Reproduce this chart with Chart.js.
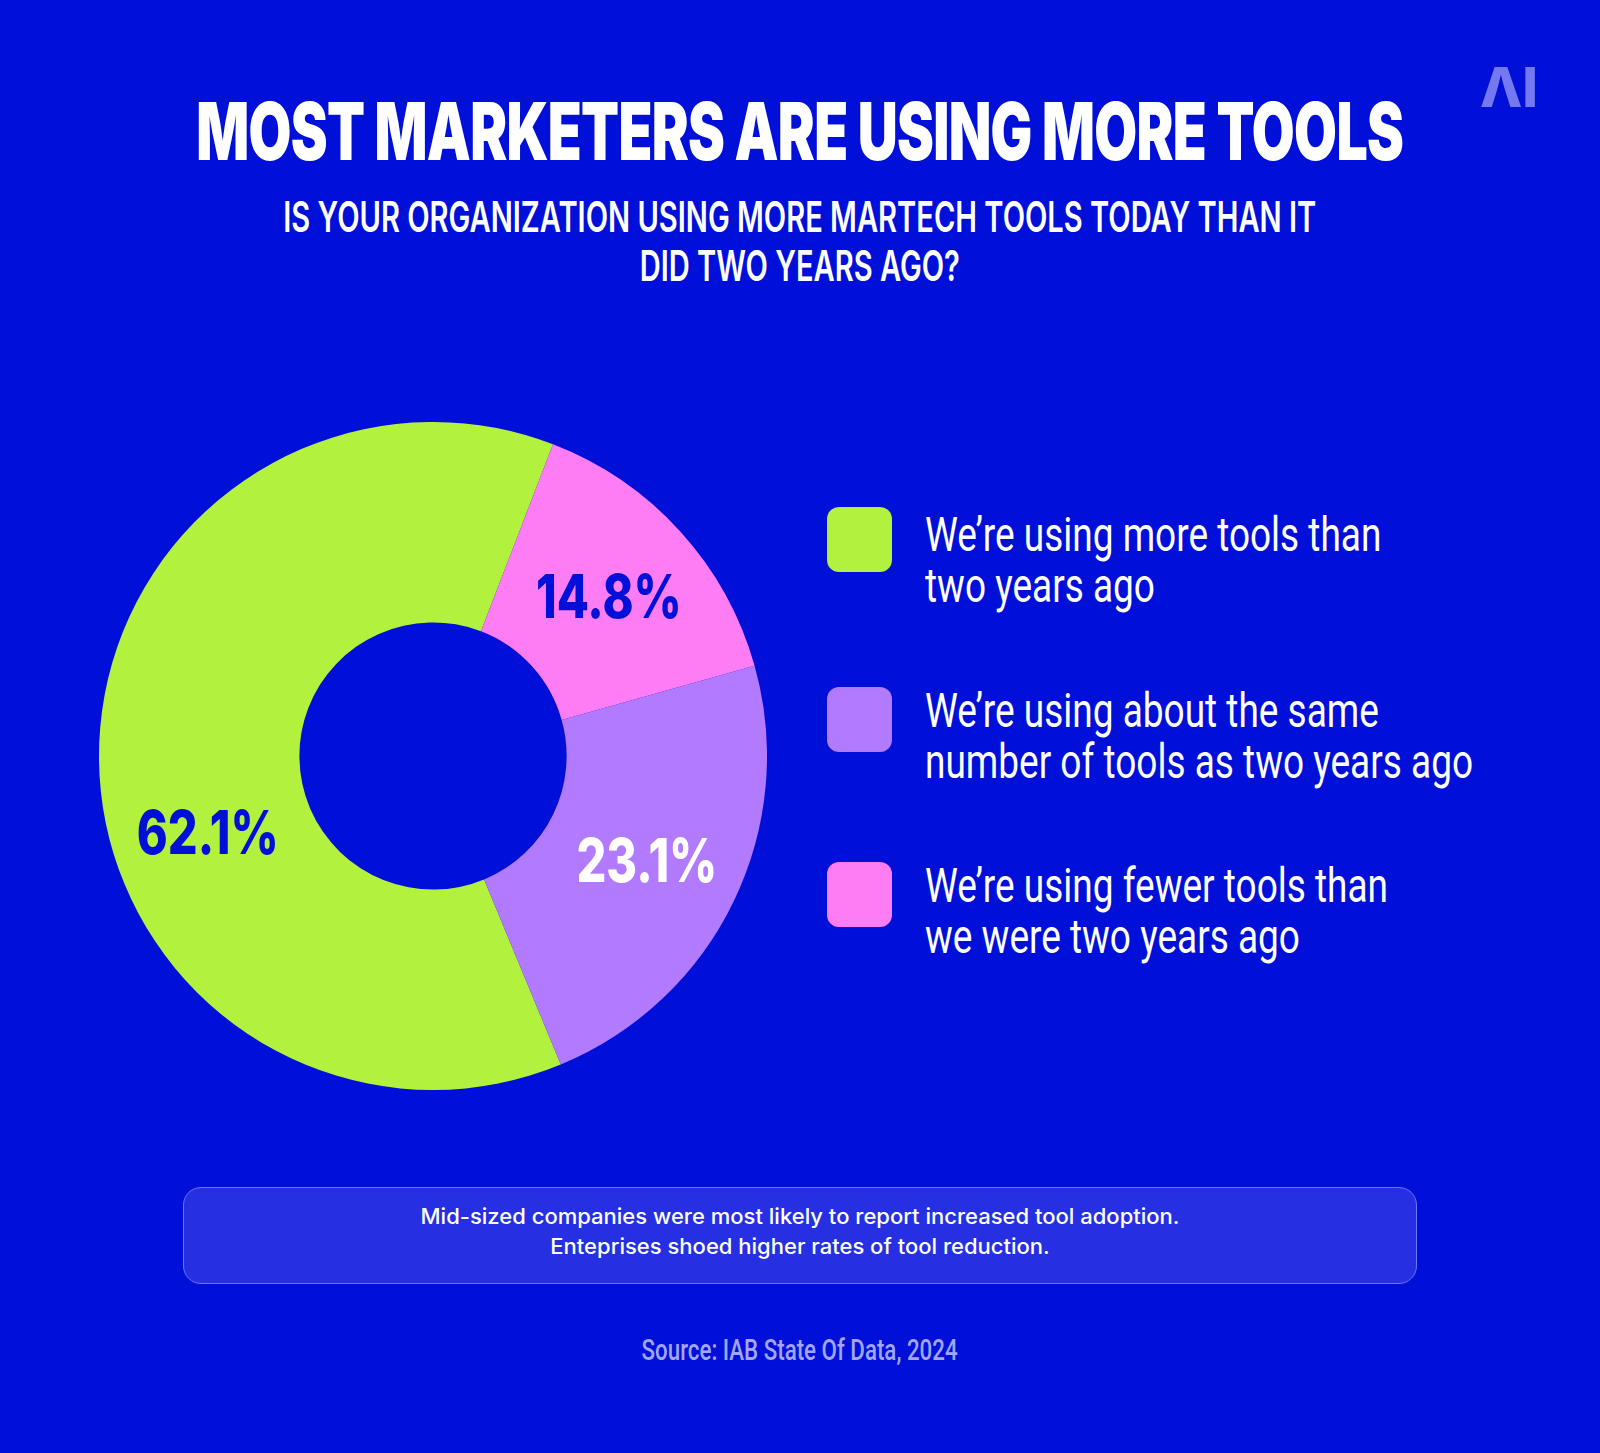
<!DOCTYPE html>
<html>
<head>
<meta charset="utf-8">
<script src="https://cdn.jsdelivr.net/npm/chart.js@4.4.1/dist/chart.umd.min.js"></script>
<style>
    html, body { margin: 0; padding: 0; }
    body {
        width: 1600px; height: 1453px; overflow: hidden;
        background: #0010d8; color: #fff; position: relative;
        font-family: Roboto, Inter, sans-serif;
    }
    .abs { position: absolute; }
    .center { left: -1000px; width: 3600px; text-align: center; }
    .fit { display: inline-block; white-space: nowrap; }
    #title .fit { font-family: Inter, Roboto, sans-serif; font-weight: 900; font-size: 80px; line-height: 80px; letter-spacing: -1px; }
    #subtitle .fit { font-family: Inter, Roboto, sans-serif; font-weight: 600; font-size: 42px; line-height: 49px; }
    #logo { left: 1480px; top: 60px; font-family: Inter, sans-serif; font-weight: 800; font-size: 55px; line-height: 55px; color: #7479f1; }
    #chart-box { left: 99px; top: 422px; width: 668px; height: 668px; }
    .swatch { position: absolute; left: 827px; width: 65px; height: 65px; border-radius: 12px; }
    .legend-text {
        position: absolute; left: 925px; white-space: nowrap;
        font-family: Roboto, Inter, sans-serif; font-weight: 400;
        font-size: 48px; line-height: 51px; transform-origin: left top;
    }
    #note {
        left: 183px; top: 1187px; width: 1232px; height: 95px;
        background: #2630e2; border: 1.5px solid #6b74f5; border-radius: 18px;
        text-align: center; box-sizing: content-box;
    }
    #note .fit { font-family: Inter, Roboto, sans-serif; font-weight: 500; font-size: 21px; line-height: 30px; margin-top: 14px; }
    #source .fit { font-family: Roboto, Inter, sans-serif; font-weight: 500; font-size: 30px; line-height: 30px; color: #a3a6f7; }
</style>
</head>
<body>
<div id="logo" class="abs">ΛI</div>
<div id="title" class="abs center" style="top:91px"><span class="fit" data-w="1207">MOST MARKETERS ARE USING MORE TOOLS</span></div>
<div id="subtitle" class="abs center" style="top:192px"><span class="fit" data-w="1033">IS YOUR ORGANIZATION USING MORE MARTECH TOOLS TODAY THAN IT<br>DID TWO YEARS AGO?</span></div>

<div id="chart-box" class="abs"><canvas id="chart"></canvas></div>
<div id="legend"></div>

<div id="note" class="abs"><span class="fit" data-w="759">Mid-sized companies were most likely to report increased tool adoption.<br>Enteprises shoed higher rates of tool reduction.</span></div>
<div id="source" class="abs center" style="top:1335px"><span class="fit" data-w="316">Source: IAB State Of Data, 2024</span></div>

<script>
// data, in legend order
const categories = [
    ['We’re using more tools than', 'two years ago'],
    ['We’re using about the same', 'number of tools as two years ago'],
    ['We’re using fewer tools than', 'we were two years ago']
];
const shares = [62.1, 23.1, 14.8];
const sliceColors = ['#b2f23e', '#b27bff', '#ff7df4'];
const labelColors = ['#0010d8', '#ffffff', '#0010d8'];
const labelAngleShift = [-18, 0, 0];   // green label sits a bit lower in the original
// the slices go round the other way from the legend
const drawOrder = [0, 2, 1];

// legend (html, so the long labels can wrap like the original)
const swatchTops = [507, 687, 862];
const textTops = [509, 685, 860];
const legend = document.getElementById('legend');
categories.forEach((lines, i) => {
    legend.innerHTML += `
        <div class="swatch" style="top:${swatchTops[i]}px;background:${sliceColors[i]}"></div>
        <div class="legend-text" style="top:${textTops[i]}px">${lines.join('<br>')}</div>`;
});

const sliceLabels = {
    id: 'sliceLabels',
    afterDatasetsDraw(chart) {
        const ctx = chart.ctx;
        const meta = chart.getDatasetMeta(0);
        ctx.save();
        ctx.font = '800 60px Inter, Roboto, sans-serif';
        ctx.textAlign = 'center';
        ctx.textBaseline = 'alphabetic';
        const k = 142 / ctx.measureText('62.1%').width;   // condensed like the original
        meta.data.forEach((arc, j) => {
            const i = drawOrder[j];
            const p = arc.getProps(['x', 'y', 'startAngle', 'endAngle', 'innerRadius', 'outerRadius'], true);
            const a = (p.startAngle + p.endAngle) / 2 + labelAngleShift[i] * Math.PI / 180;
            const r = (p.innerRadius + p.outerRadius) / 2 + 4;
            ctx.save();
            ctx.translate(p.x + Math.cos(a) * r, p.y + Math.sin(a) * r + 22);
            ctx.scale(k, 1);
            ctx.fillStyle = labelColors[i];
            ctx.fillText(shares[i].toFixed(1) + '%', 0, 0);
            ctx.restore();
        });
        ctx.restore();
    }
};

new Chart(document.getElementById('chart'), {
    type: 'doughnut',
    data: {
        labels: drawOrder.map(i => categories[i].join(' ')),
        datasets: [{
            data: drawOrder.map(i => shares[i]),
            backgroundColor: drawOrder.map(i => sliceColors[i]),
            borderWidth: 0,
            hoverOffset: 0
        }]
    },
    options: {
        responsive: true,
        maintainAspectRatio: false,
        animation: false,
        cutout: '40%',
        rotation: 157.5,
        layout: { padding: 0 },
        plugins: { legend: { display: false }, tooltip: { enabled: false } }
    },
    plugins: [sliceLabels]
});

// squeeze text blocks to the widths of the original lettering
function fitAll() {
    document.querySelectorAll('.fit').forEach(el => {
        el.style.transform = '';
        const w = el.getBoundingClientRect().width;
        el.style.transformOrigin = 'center top';
        el.style.transform = `scaleX(${el.dataset.w / w})`;
    });
    const texts = document.querySelectorAll('.legend-text');
    texts.forEach(el => el.style.transform = '');
    const k = 548 / texts[1].getBoundingClientRect().width;
    texts.forEach(el => el.style.transform = `scaleX(${k})`);
}
fitAll();
document.fonts && document.fonts.ready.then(fitAll);
</script>
</body>
</html>
